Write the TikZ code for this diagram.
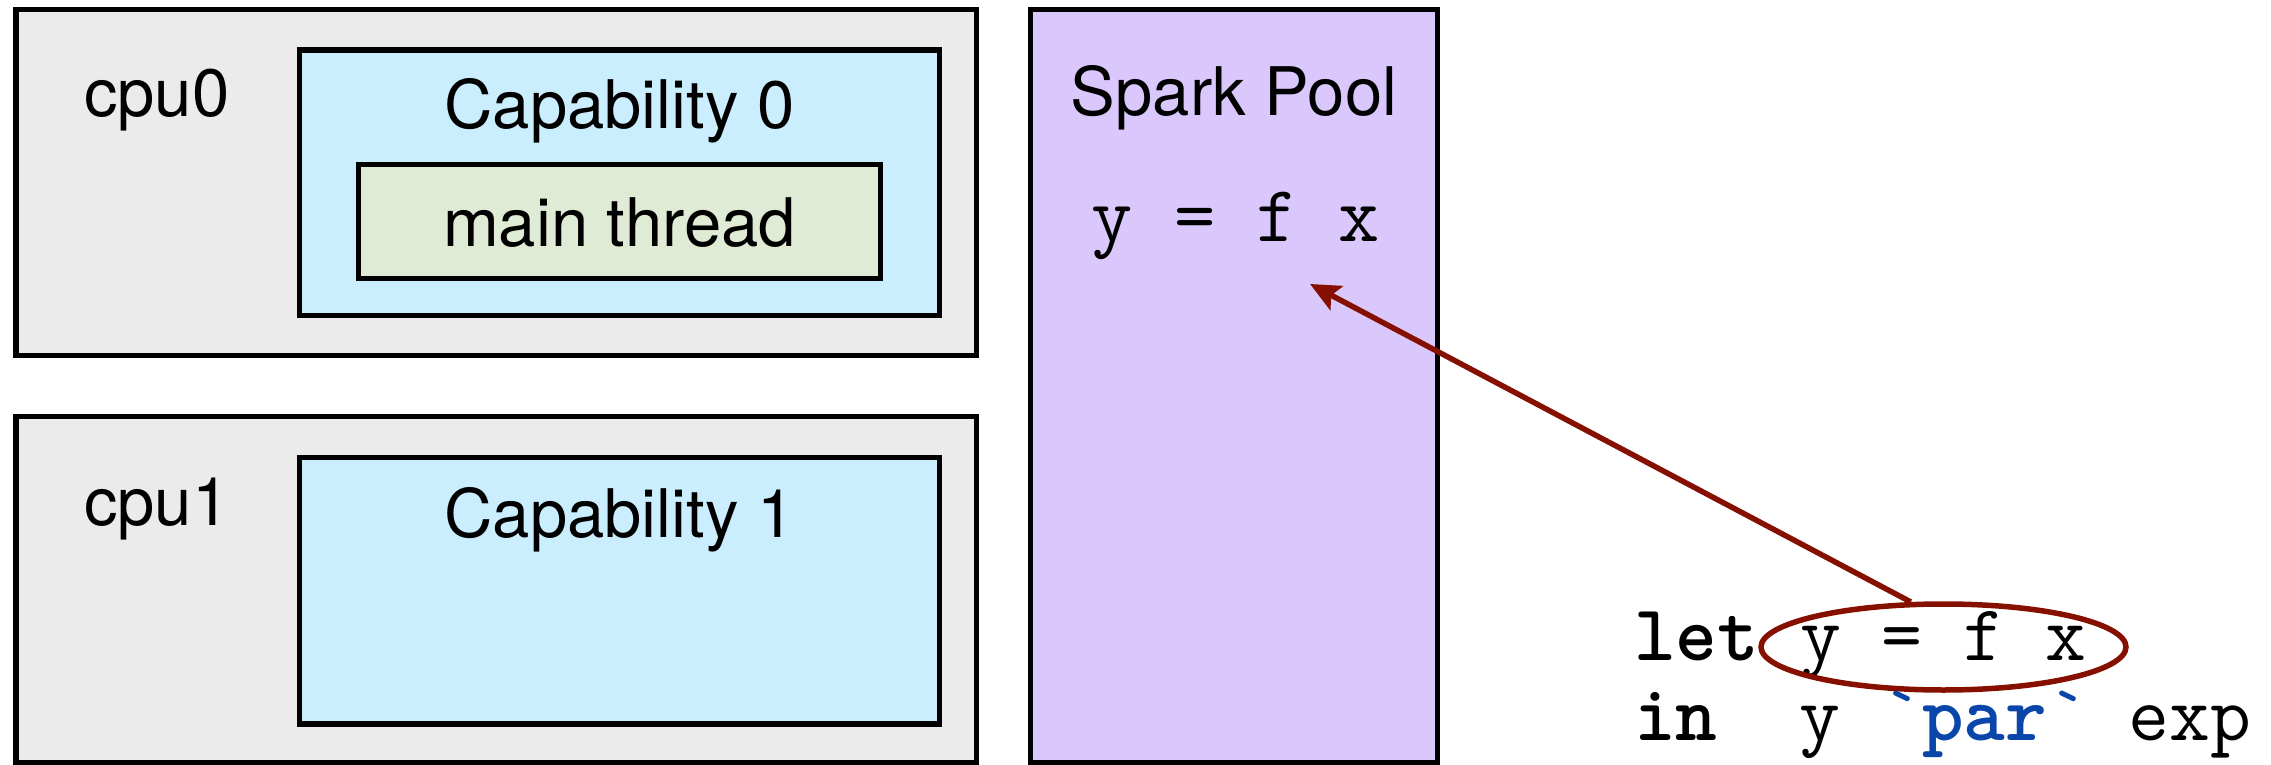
\documentclass[tikz,border=0pt]{standalone}
\usepackage{fontspec}
\setmainfont{TeX Gyre Heros}
\usetikzlibrary{shapes.geometric,arrows.meta}

\definecolor{cpugray}{RGB}{235,235,235}
\definecolor{capblue}{RGB}{202,238,253}
\definecolor{threadgreen}{RGB}{224,235,213}
\definecolor{poolpurple}{RGB}{218,200,252}
\definecolor{sparkred}{RGB}{133,16,0}
\definecolor{kwblue}{RGB}{10,69,170}

\tikzset{
  frame/.style={draw=black, line width=5.5pt, inner sep=0pt},
  cpubox/.style={frame, fill=cpugray},
  capbox/.style={frame, fill=capblue},
  threadbox/.style={frame, fill=threadgreen},
  poolbox/.style={frame, fill=poolpurple},
  sanslabel/.style={inner sep=0pt, font=\fontsize{67}{80}\selectfont},
  codeline/.style={inner sep=0pt, anchor=base west, font=\ttfamily\fontsize{79.4}{90}\selectfont},
  poolcode/.style={inner sep=0pt, anchor=base, font=\ttfamily\fontsize{80}{90}\selectfont},
  sparkarrow/.style={draw=sparkred, line width=5.5pt, -{Stealth[length=30pt,width=27pt,inset=6pt]}},
}

\begin{document}
\begin{tikzpicture}[x=1pt, y=-1pt]
  \useasboundingbox (0,0) rectangle (2271,765);

  % processor 0 with its capability and the main thread
  \draw[cpubox] (16,9.5) rectangle (976.5,355.5);
  \draw[capbox] (299.5,50) rectangle (939.5,315.5);
  \draw[threadbox] (358.5,164.5) rectangle (880.5,278.5);
  \node[sanslabel, anchor=base west] (cpu0) at (84,117) {cpu0};
  \node[sanslabel, anchor=base] (cap0) at (619.5,129) {Capability 0};
  \node[sanslabel, anchor=base] (main) at (619.5,246) {main thread};

  % processor 1 with its capability
  \draw[cpubox] (16,416.5) rectangle (976.5,762.5);
  \draw[capbox] (299.5,457.5) rectangle (939.5,724);
  \node[sanslabel, anchor=base west] (cpu1) at (84,525) {cpu1};
  \node[sanslabel, anchor=base] (cap1) at (619.5,537) {Capability 1};

  % the shared spark pool
  \draw[poolbox] (1030.5,9.5) rectangle (1437.5,762.5);
  \node[sanslabel, anchor=base] (pool) at (1234,116) {Spark Pool};
  \node[poolcode] (spark) at (1236,241) {y~=~f~x};

  % source program creating the spark
  \node[codeline] (letline) at (1634,660) {\bfseries let\mdseries~y~=~f~x};
  \node[codeline] (inline) at (1634,740)
    {\bfseries in\mdseries~~y~\textcolor{kwblue}{`\bfseries par\mdseries`}~exp};

  % the sparked expression and its path into the pool
  \node[ellipse, draw=sparkred, line width=5.5pt, inner sep=0pt,
        minimum width=365pt, minimum height=86pt] (ell) at (1943.5,647) {};
  \coordinate (sparkin) at (1310,284);
  \draw[sparkarrow] (ell.126) -- (sparkin);
\end{tikzpicture}
\end{document}
